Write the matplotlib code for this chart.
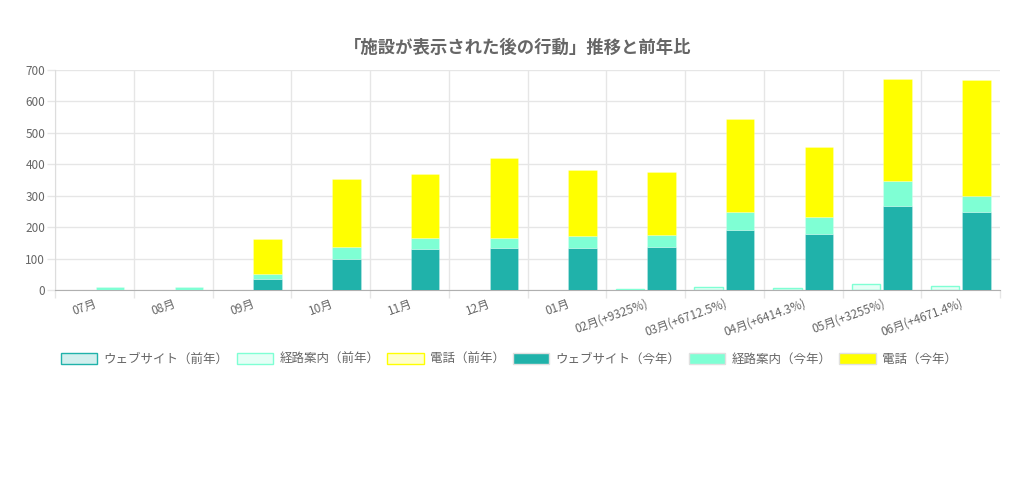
import matplotlib
matplotlib.use("Agg")
import matplotlib.pyplot as plt
import numpy as np
from matplotlib.patches import Patch

plt.rcParams['font.family'] = ['Noto Sans CJK JP', 'DejaVu Sans']

months = ["07月", "08月", "09月", "10月", "11月", "12月", "01月",
          "02月(+9325%)", "03月(+6712.5%)", "04月(+6414.3%)", "05月(+3255%)", "06月(+4671.4%)"]

web_prev = [0, 0, 0, 0, 0, 0, 0, 0, 0, 0, 0, 0]
route_prev = [0, 0, 0, 0, 0, 0, 0, 4, 8, 7, 20, 14]
phone_prev = [0, 0, 0, 0, 0, 0, 0, 0, 0, 0, 0, 0]

web_now = [0, 0, 35, 100, 130, 133, 135, 137, 192, 177, 266, 249]
route_now = [10, 8, 17, 37, 36, 34, 37, 39, 57, 54, 81, 49]
phone_now = [0, 0, 110, 216, 203, 254, 210, 201, 296, 225, 324, 370]

labels = ["ウェブサイト（前年）", "経路案内（前年）", "電話（前年）",
          "ウェブサイト（今年）", "経路案内（今年）", "電話（今年）"]

c_web = "#20B2AA"
c_route = "#7FFFD4"
c_phone = "#FFFF00"
txt = "#666666"
grid = "#e6e6e6"

fig = plt.figure(figsize=(10.24, 4.87), dpi=100)
ax = fig.add_axes([55/1024, 1-290/487, (1000-55)/1024, 220/487])

x = np.arange(len(months))
w = 0.36
off = 0.2

def rgba(hexc, a):
    r, g, b = matplotlib.colors.to_rgb(hexc)
    return (r, g, b, a)

# previous year stack
bottom = np.zeros(len(months))
for vals, col in [(web_prev, c_web), (route_prev, c_route), (phone_prev, c_phone)]:
    v = np.array(vals, dtype=float)
    mask = v > 0
    ax.bar(x[mask] - off, v[mask], w, bottom=bottom[mask], facecolor=rgba(col, 0.2),
           edgecolor=col, linewidth=1.0, zorder=3)
    bottom += v

# this year stack
bottom = np.zeros(len(months))
for vals, col in [(web_now, c_web), (route_now, c_route), (phone_now, c_phone)]:
    v = np.array(vals, dtype=float)
    mask = v > 0
    ax.bar(x[mask] + off, v[mask], w, bottom=bottom[mask], facecolor=col,
           edgecolor=rgba("#ffffff", 0.25), linewidth=0.6, zorder=3)
    bottom += v

ax.set_xlim(-0.5, len(months) - 0.5)
ax.set_ylim(0, 700)
ax.set_yticks(np.arange(0, 701, 100))
ax.yaxis.grid(True, color=grid, linewidth=1, zorder=0)
for k in range(0, len(months)):
    ax.axvline(k - 0.5, color=grid, linewidth=1, zorder=0)

ax.set_xticks(x)
ax.set_xticklabels(months, rotation=20, ha='right', rotation_mode='anchor')
ax.set_xticks(np.arange(-0.5, len(months), 1), minor=True)
ax.tick_params(axis='x', which='major', length=0, pad=5, labelsize=8.5, labelcolor=txt)
ax.tick_params(axis='x', which='minor', length=6, color=grid, width=1)
ax.tick_params(axis='y', length=6, color=grid, width=1, labelsize=8.5, labelcolor=txt, pad=1)

for s in ['top', 'right']:
    ax.spines[s].set_visible(False)
ax.spines['left'].set_color("#dddddd")
ax.spines['bottom'].set_color("#b0b0b0")

fig.text(518/1024, 1-48/487, "「施設が表示された後の行動」推移と前年比", ha='center', va='center',
         fontsize=12.5, fontweight='bold', color=txt)

handles = [
    Patch(facecolor=rgba(c_web, 0.2), edgecolor=c_web, linewidth=1),
    Patch(facecolor=rgba(c_route, 0.2), edgecolor=c_route, linewidth=1),
    Patch(facecolor=rgba(c_phone, 0.2), edgecolor=c_phone, linewidth=1),
    Patch(facecolor=c_web, edgecolor="#e0e0e0", linewidth=1),
    Patch(facecolor=c_route, edgecolor="#e0e0e0", linewidth=1),
    Patch(facecolor=c_phone, edgecolor="#e0e0e0", linewidth=1),
]
leg = fig.legend(handles, labels, loc='center', bbox_to_anchor=(509/1024, 1-359/487), ncol=6,
                 frameon=False, fontsize=9, handlelength=2.9, handleheight=1.0,
                 handletextpad=0.5, columnspacing=0.65, labelcolor=txt,
                 borderaxespad=0, borderpad=0)

fig.savefig("out.png", dpi=100)
